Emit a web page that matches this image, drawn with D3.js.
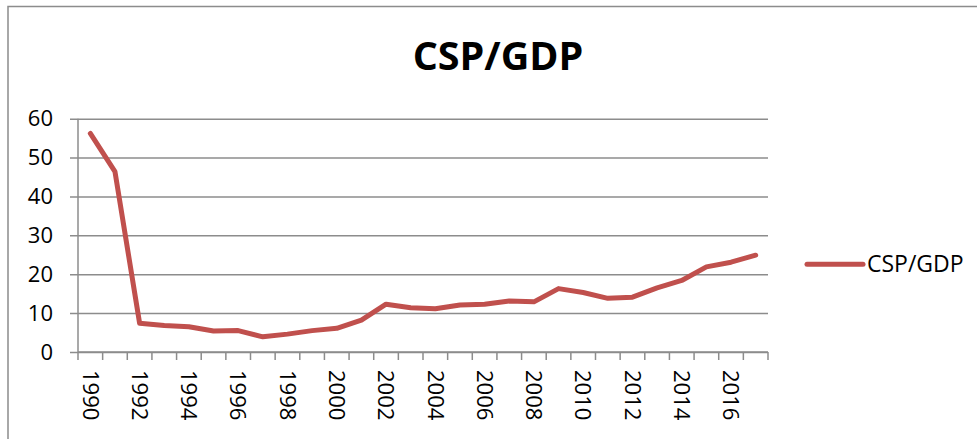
<!DOCTYPE html>
<html>
<head>
<meta charset="utf-8">
<script src="https://cdn.jsdelivr.net/npm/d3@7"></script>
<style>
  body { margin: 0; background: #fff; }
  text { font-family: "Open Sans", sans-serif; fill: #000; }
</style>
</head>
<body>
<svg class="chart"></svg>
<script>
var years = [1990, 1991, 1992, 1993, 1994, 1995, 1996, 1997, 1998, 1999,
             2000, 2001, 2002, 2003, 2004, 2005, 2006, 2007, 2008, 2009,
             2010, 2011, 2012, 2013, 2014, 2015, 2016, 2017];
var cspGdp = [56.2, 46.4, 7.4, 6.8, 6.5, 5.4, 5.5, 3.9, 4.6, 5.5,
              6.1, 8.2, 12.3, 11.4, 11.1, 12.1, 12.3, 13.1, 12.9, 16.3,
              15.3, 13.8, 14.1, 16.5, 18.4, 21.9, 23.1, 24.9];
var yTicks = [0, 10, 20, 30, 40, 50, 60];
var seriesName = "CSP/GDP";

var width = 977, height = 439,
    margin = {top: 118.7, right: 209, bottom: 87, left: 78};

var svg = d3.select(".chart")
    .attr("width", width)
    .attr("height", height);

// outer frame
svg.append("path")
    .attr("d", "M8," + height + "V6.5H" + width)
    .attr("fill", "none")
    .attr("stroke", "#8c8c8c")
    .attr("stroke-width", 1.5);

var x = d3.scaleBand()
    .domain(years)
    .range([margin.left, width - margin.right]);
var y = d3.scaleLinear()
    .domain([0, 60])
    .range([height - margin.bottom, margin.top]);

// title
svg.append("text")
    .attr("x", 498)
    .attr("y", 70)
    .attr("text-anchor", "middle")
    .style("font-size", "39.5px")
    .style("font-weight", "bold")
    .text(seriesName);

// gridlines + y axis
var yAxis = d3.axisLeft(y)
    .tickValues(yTicks)
    .tickSize(-(width - margin.right - margin.left))
    .tickPadding(18)
    .tickSizeOuter(0);

var yg = svg.append("g")
    .attr("transform", "translate(" + margin.left + ",0)")
    .call(yAxis);
yg.select(".domain").remove();
yg.selectAll(".tick line")
    .attr("x1", -8)
    .attr("stroke", "#8c8c8c")
    .attr("stroke-width", 1.5);
yg.selectAll(".tick text")
    .attr("x", -25)
    .style("font-size", "22px")
    .style("font-family", "'Open Sans', sans-serif");

// vertical axis line
svg.append("line")
    .attr("x1", margin.left).attr("x2", margin.left)
    .attr("y1", y(60)).attr("y2", y(0))
    .attr("stroke", "#8c8c8c")
    .attr("stroke-width", 1.5);

// x axis: ticks at category boundaries
var bounds = years.map(function(d) { return x(d); }).concat([x.range()[1]]);
var xg = svg.append("g");
xg.append("line")
    .attr("x1", margin.left).attr("x2", x.range()[1])
    .attr("y1", y(0)).attr("y2", y(0))
    .attr("stroke", "#8c8c8c")
    .attr("stroke-width", 1.5);
xg.selectAll(".xtick")
    .data(bounds)
    .enter().append("line")
    .attr("class", "xtick")
    .attr("x1", function(d) { return d; })
    .attr("x2", function(d) { return d; })
    .attr("y1", y(0))
    .attr("y2", y(0) + 8)
    .attr("stroke", "#8c8c8c")
    .attr("stroke-width", 1.5);
xg.selectAll(".xlabel")
    .data(years.filter(function(d, i) { return i % 2 === 0; }))
    .enter().append("text")
    .attr("class", "xlabel")
    .attr("transform", function(d) {
        return "translate(" + (x(d) + x.bandwidth() / 2) + "," + (y(0) + 18) + ") rotate(90)";
    })
    .attr("dy", "0.35em")
    .style("font-size", "22px")
    .text(function(d) { return d; });

// series line
var line = d3.line()
    .x(function(d, i) { return x(years[i]) + x.bandwidth() / 2; })
    .y(function(d) { return y(d); });

svg.append("path")
    .datum(cspGdp)
    .attr("d", line)
    .attr("fill", "none")
    .attr("stroke", "#c0504d")
    .attr("stroke-width", 5)
    .attr("stroke-linejoin", "round")
    .attr("stroke-linecap", "round");

// legend
var legend = svg.append("g").attr("transform", "translate(807,264.3)");
legend.append("line")
    .attr("x1", 0).attr("x2", 56)
    .attr("stroke", "#c0504d")
    .attr("stroke-width", 5)
    .attr("stroke-linecap", "round");
legend.append("text")
    .attr("x", 60)
    .attr("dy", "0.35em")
    .style("font-size", "23px")
    .text(seriesName);
</script>
</body>
</html>
